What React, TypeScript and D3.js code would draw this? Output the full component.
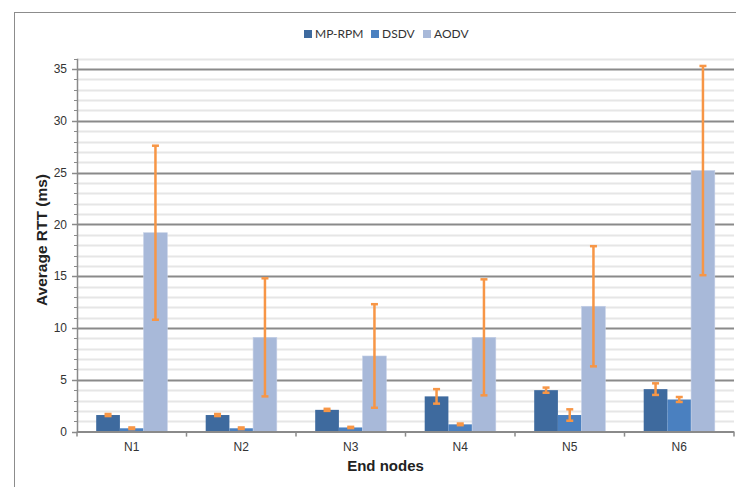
import React, { useEffect, useRef } from "react";
import * as d3 from "d3";

const nodes = ["N1", "N2", "N3", "N4", "N5", "N6"];
const seriesNames = ["MP-RPM", "DSDV", "AODV"];
const seriesColors = ["#3e6a9e", "#4a80c0", "#a8b9d9"];

const mpRpm = [1.6, 1.6, 2.1, 3.4, 4.0, 4.1];
const dsdv = [0.32, 0.32, 0.4, 0.7, 1.6, 3.1];
const aodv = [19.2, 9.1, 7.3, 9.1, 12.1, 25.2];

const mpRpmErr = [0.1, 0.1, 0.1, 0.7, 0.25, 0.56];
const dsdvErr = [0.08, 0.08, 0.06, 0.08, 0.55, 0.24];
const aodvErr = [8.4, 5.7, 5.0, 5.6, 5.8, 10.1];

const majorTicks = [0, 5, 10, 15, 20, 25, 30, 35];

const W = 736;
const H = 487;

export default function App() {
  const ref = useRef<SVGSVGElement>(null);

  useEffect(() => {
    const svg = d3.select(ref.current);
    svg.selectAll("*").remove();

    const left = 77, right = 734, top = 58.7, bottom = 431.6;
    const values = [mpRpm, dsdv, aodv];
    const errs = [mpRpmErr, dsdvErr, aodvErr];

    const x = d3.scaleBand().domain(nodes).range([left, right]).padding(0);
    const xs = d3.scaleBand().domain(seriesNames).range([0, x.bandwidth()])
      .paddingInner(0).paddingOuter(0.81);
    const y = d3.scaleLinear().domain([0, 36]).range([bottom, top]);

    // frame
    svg.append("rect").attr("x", 14.5).attr("y", 12.5).attr("width", 760).attr("height", 490)
      .attr("fill", "#fff").attr("stroke", "#8c8c8c").attr("stroke-width", 1);

    // minor gridlines
    const minor = d3.range(1, 37).filter(v => v % 5 !== 0);
    svg.append("g").selectAll("line").data(minor).enter().append("line")
      .attr("x1", left).attr("x2", right)
      .attr("y1", d => Math.round(y(d)) + 0.5).attr("y2", d => Math.round(y(d)) + 0.5)
      .attr("stroke", "#e6e6e6").attr("stroke-width", 2);
    // major gridlines
    svg.append("g").selectAll("line").data(majorTicks.filter(d => d > 0)).enter().append("line")
      .attr("x1", left).attr("x2", right)
      .attr("y1", d => Math.round(y(d)) + 0.5).attr("y2", d => Math.round(y(d)) + 0.5)
      .attr("stroke", "#8a8a8a").attr("stroke-width", 2);

    // bars
    const g = svg.append("g");
    seriesNames.forEach((s, si) => {
      g.append("g").selectAll("rect").data(values[si]).enter().append("rect")
        .attr("x", (d, i) => (x(nodes[i]) as number) + (xs(s) as number))
        .attr("width", xs.bandwidth())
        .attr("y", d => y(d))
        .attr("height", d => bottom - y(d))
        .attr("fill", seriesColors[si])
        .attr("stroke", si === 2 ? "#c3cfe6" : "none")
        .attr("stroke-width", 0.6);
    });

    // error bars
    seriesNames.forEach((s, si) => {
      const eg = g.append("g").attr("stroke", "#f79646");
      values[si].forEach((v, i) => {
        const cx = (x(nodes[i]) as number) + (xs(s) as number) + xs.bandwidth() / 2;
        const hi = y(v + errs[si][i]);
        const lo = y(Math.max(0, v - errs[si][i]));
        eg.append("line").attr("x1", cx).attr("x2", cx).attr("y1", hi).attr("y2", lo)
          .attr("stroke-width", 2.5);
        [hi, lo].forEach(yy => {
          eg.append("line").attr("x1", cx - 3.5).attr("x2", cx + 3.5).attr("y1", yy).attr("y2", yy)
            .attr("stroke-width", 2.5);
        });
      });
    });

    // y axis
    const ya = svg.append("g");
    ya.append("line").attr("x1", left + 0.5).attr("x2", left + 0.5).attr("y1", top).attr("y2", bottom)
      .attr("stroke", "#8a8a8a").attr("stroke-width", 1.5);
    ya.selectAll(".minor").data(minor).enter().append("line")
      .attr("x1", left - 3).attr("x2", left)
      .attr("y1", d => Math.round(y(d)) + 0.5).attr("y2", d => Math.round(y(d)) + 0.5)
      .attr("stroke", "#8a8a8a").attr("stroke-width", 1);
    ya.selectAll(".major").data(majorTicks).enter().append("line")
      .attr("x1", left - 5).attr("x2", left)
      .attr("y1", d => Math.round(y(d)) + 0.5).attr("y2", d => Math.round(y(d)) + 0.5)
      .attr("stroke", "#8a8a8a").attr("stroke-width", 1.5);
    ya.selectAll("text").data(majorTicks).enter().append("text")
      .attr("x", left - 10).attr("y", d => y(d)).attr("dy", "0.35em")
      .attr("text-anchor", "end").attr("font-family", "Liberation Sans, Arial, sans-serif")
      .attr("font-size", 12).attr("fill", "#333").text(d => d);

    // x axis
    const xa = svg.append("g");
    xa.append("line").attr("x1", left).attr("x2", right).attr("y1", bottom + 0.5).attr("y2", bottom + 0.5)
      .attr("stroke", "#8a8a8a").attr("stroke-width", 2);
    const boundaries = nodes.map(n => (x(n) as number)).concat([right]);
    xa.selectAll(".tk").data(boundaries).enter().append("line")
      .attr("x1", d => d).attr("x2", d => d).attr("y1", bottom).attr("y2", bottom + 5)
      .attr("stroke", "#8a8a8a").attr("stroke-width", 1.5);
    xa.selectAll("text").data(nodes).enter().append("text")
      .attr("x", d => (x(d) as number) + x.bandwidth() / 2).attr("y", 451)
      .attr("text-anchor", "middle")
      .attr("font-family", "Liberation Sans Narrow, Liberation Sans, Arial, sans-serif")
      .attr("font-size", 12).attr("fill", "#333").text(d => d);

    // axis titles
    svg.append("text").attr("x", (left + right) / 2 - 20).attr("y", 471)
      .attr("text-anchor", "middle").attr("font-family", "Liberation Sans Narrow, Liberation Sans, Arial, sans-serif")
      .attr("font-weight", "bold").attr("font-size", 15).attr("fill", "#222").text("End nodes");
    svg.append("text").attr("transform", "translate(47,240) rotate(-90)")
      .attr("text-anchor", "middle").attr("font-family", "Liberation Sans, Arial, sans-serif")
      .attr("font-weight", "bold").attr("font-size", 15.5).attr("fill", "#222").text("Average RTT (ms)");

    // legend
    const legendX = [304, 371, 423];
    const lg = svg.append("g");
    seriesNames.forEach((s, i) => {
      lg.append("rect").attr("x", legendX[i]).attr("y", 30).attr("width", 8).attr("height", 8)
        .attr("fill", seriesColors[i]);
      lg.append("text").attr("x", legendX[i] + 11).attr("y", 34).attr("dy", "0.35em")
        .attr("font-family", "Lato, Liberation Sans, sans-serif").attr("font-size", 12)
        .attr("fill", "#333").text(s);
    });
  }, []);

  return (
    <svg ref={ref} width={W} height={H}
      style={{ position: "fixed", left: 0, top: 0, display: "block", background: "#fff" }} />
  );
}
